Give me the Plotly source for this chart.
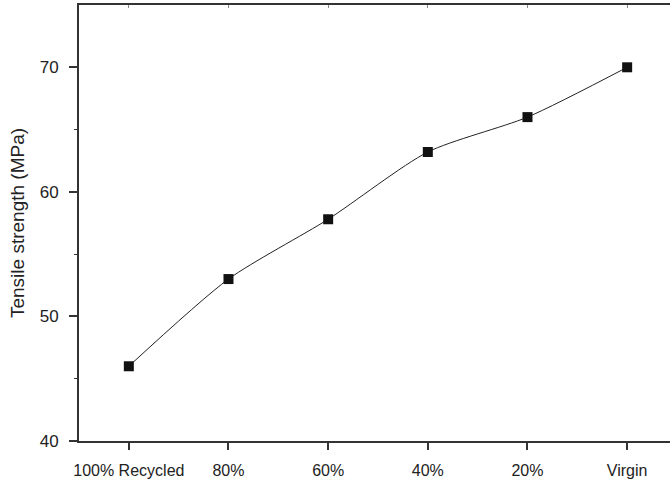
import plotly.graph_objects as go

categories = ["100% Recycled", "80%", "60%", "40%", "20%", "Virgin"]
tensile = [46.0, 53.0, 57.8, 63.2, 66.0, 70.0]
y_ticks = [40, 50, 60, 70]
y_minor = [45, 55, 65]

x_idx = list(range(len(categories)))
x_range = [-0.5, 5.43]

fig = go.Figure()
fig.add_trace(go.Scatter(
    x=x_idx, y=tensile, mode="lines+markers",
    line=dict(color="#222222", width=1, shape="spline", smoothing=0.7),
    marker=dict(symbol="square", size=10, color="#111111"),
    showlegend=False,
))
# invisible trace to activate top axis
fig.add_trace(go.Scatter(x=[x_idx[0]], y=[tensile[0]], xaxis="x2", mode="markers",
                         marker=dict(opacity=0), showlegend=False, hoverinfo="skip"))

fig.update_layout(
    width=670, height=482,
    margin=dict(l=79, r=0, t=5, b=41),
    paper_bgcolor="white", plot_bgcolor="white",
    font=dict(family="Liberation Sans, Arial, sans-serif", color="#222222", size=16),
    xaxis=dict(
        range=x_range, tickmode="array", tickvals=x_idx, ticktext=categories,
        showgrid=False, zeroline=False, showline=True, linecolor="#333333", linewidth=2,
        ticks="outside", ticklen=7, tickwidth=1.5, tickcolor="#333333",
        tickfont=dict(size=16), ticklabelstandoff=7, automargin=False,
    ),
    xaxis2=dict(
        range=x_range, overlaying="x", side="top", tickmode="array", tickvals=x_idx,
        showticklabels=False, showgrid=False, zeroline=False, showline=True,
        linecolor="#333333", linewidth=2, ticks="inside", ticklen=3, tickwidth=1,
        tickcolor="#888888", automargin=False,
    ),
    yaxis=dict(
        range=[40, 75], tickmode="array", tickvals=y_ticks,
        showgrid=False, zeroline=False, showline=True, linecolor="#333333", linewidth=2,
        ticks="outside", ticklen=8, tickwidth=1.5, tickcolor="#333333",
        tickfont=dict(size=17), ticklabelstandoff=7, automargin=False,
        minor=dict(tickmode="array", tickvals=y_minor, ticks="outside", ticklen=3,
                   tickwidth=1, tickcolor="#333333", showgrid=False),
        title=dict(text="Tensile strength (MPa)", font=dict(size=19), standoff=10),
    ),
)

fig.write_html("out.html", config={"displayModeBar": False},
               post_script="document.body.style.margin='0';")
